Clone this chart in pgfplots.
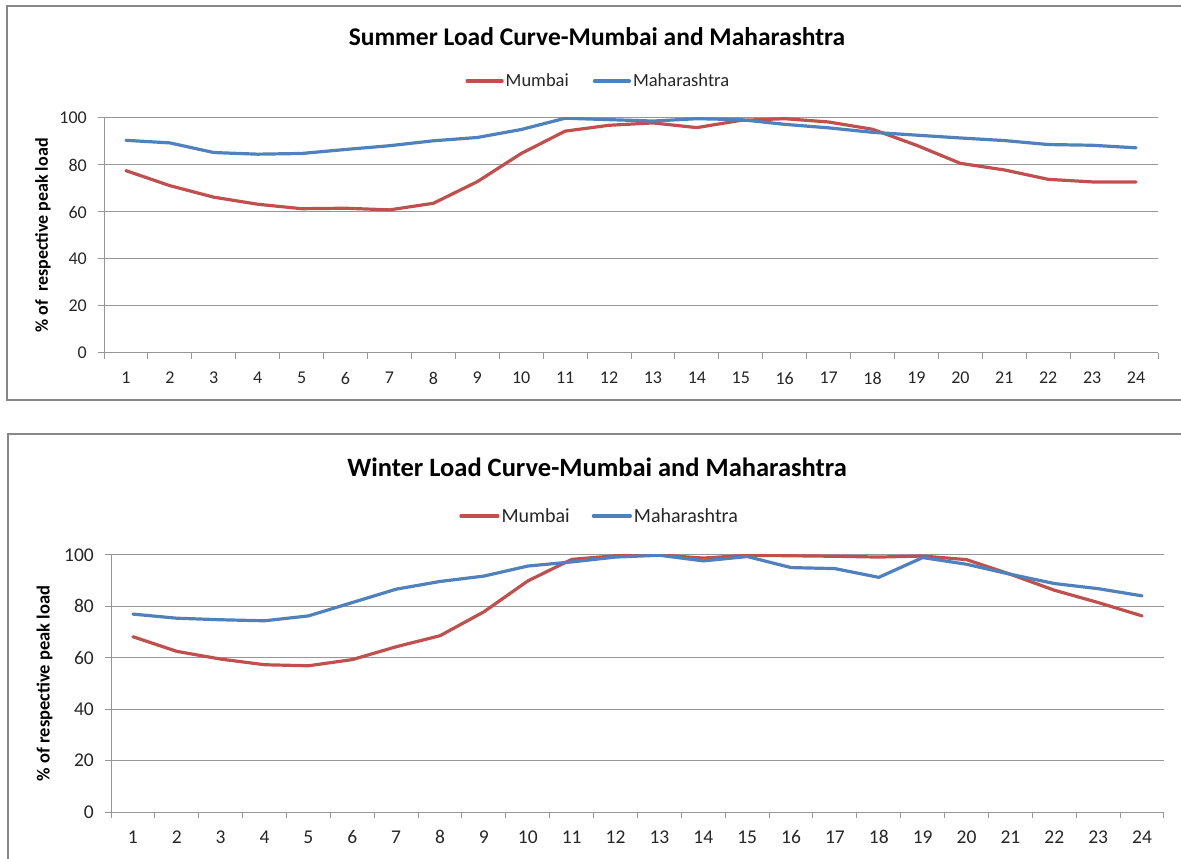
\documentclass[border=0pt]{standalone}
\usepackage{pgfplots}
\usepackage{pgfplotstable}
\pgfplotsset{compat=1.18}
\usepackage{fontspec}
\setmainfont{Carlito}
\definecolor{mred}{HTML}{C0504D}
\definecolor{mblue}{HTML}{4F81BD}
\definecolor{bord}{HTML}{878787}
\definecolor{gridc}{HTML}{969696}
\definecolor{txt}{HTML}{262626}

\pgfplotstableread{
h mum mah
1 77.6 90.5
2 71.2 89.4
3 66.3 85.3
4 63.3 84.6
5 61.4 84.9
6 61.6 86.6
7 60.9 88.2
8 63.7 90.3
9 72.9 91.7
10 84.9 95.1
11 94.4 99.9
12 96.9 99.3
13 97.9 98.7
14 95.9 99.7
15 99.0 99.3
16 99.7 97.3
17 98.3 95.8
18 95.2 93.9
19 88.4 92.7
20 80.7 91.5
21 77.9 90.4
22 73.9 88.7
23 72.8 88.4
24 72.8 87.3
}\summer

\pgfplotstableread{
h mum mah
1 68.2 77.0
2 62.5 75.4
3 59.5 74.8
4 57.3 74.4
5 56.9 76.3
6 59.3 81.5
7 64.3 86.7
8 68.6 89.7
9 77.9 91.8
10 89.9 95.7
11 98.3 97.3
12 99.7 99.2
13 100.0 99.9
14 98.8 97.7
15 99.9 99.4
16 99.7 95.1
17 99.5 94.7
18 99.2 91.3
19 99.6 99.0
20 98.2 96.4
21 92.5 92.5
22 86.3 88.9
23 81.5 86.9
24 76.3 84.1
}\winter

\pgfplotsset{
  lc/.style={
    scale only axis,
    xmin=0.5, xmax=24.5, ymin=0, ymax=100,
    axis x line*=bottom, axis y line*=left,
    axis line style={draw=gridc, line width=1bp, -},
    xtick={1,...,24}, ytick={0,20,...,100},
    minor xtick={0.5,1.5,...,24.5},
    minor ytick={0,20,...,100},
    major tick length=0pt, minor tick length=6bp,
    tick align=outside,
    tick style={draw=gridc, line width=1bp},
    ymajorgrids, major grid style={draw=gridc, line width=1bp},
    /pgf/number format/assume math mode=true,
    xticklabel style={anchor=center, yshift=-25bp},
    yticklabel style={anchor=east, inner sep=0pt, xshift=-17bp},
    legend columns=2,
    legend style={draw=none, fill=none, anchor=center, text=txt},
    every axis y label/.style={rotate=90, anchor=center,
      font=\bfseries\fontsize{18bp}{21bp}\selectfont, text=black},
  },
  ser/.style={line width=3.2bp, line join=round, line cap=round},
}

\begin{document}
\begin{tikzpicture}
\useasboundingbox (0,0) rectangle (1181bp,859bp);
\draw[bord, line width=2bp] (7bp,459bp) rectangle (1190bp,853bp);
\draw[bord, line width=2bp] (8bp,-10bp) rectangle (1190bp,425bp);

\node[font=\bfseries\fontsize{25.5bp}{30bp}\selectfont] at (597bp,822bp) {Summer Load Curve-Mumbai and Maharashtra};
\node[font=\bfseries\fontsize{26.5bp}{31bp}\selectfont] at (597bp,392bp) {Winter Load Curve-Mumbai and Maharashtra};

\begin{axis}[lc, at={(104bp,506bp)}, anchor=south west,
  width=1054bp, height=235bp,
  tick label style={font=\fontsize{18bp}{21bp}\selectfont, text=txt},
  legend style={at={(0.469,1.157)}, font=\fontsize{18.5bp}{21bp}\selectfont,
    /tikz/every even column/.append style={column sep=22bp}},
  legend image code/.code={\draw[#1] (0bp,0bp) -- (35bp,0bp);},
  every axis y label/.append style={at={(axis description cs:-0.058,0.5)}},
  ylabel={\% of\ \ respective peak load}]
\addplot[ser, mred] table[x=h, y=mum] {\summer};
\addlegendentry{Mumbai}
\addplot[ser, mblue] table[x=h, y=mah] {\summer};
\addlegendentry{Maharashtra}
\end{axis}

\begin{axis}[lc, at={(111bp,47bp)}, anchor=south west,
  width=1053bp, height=257bp,
  tick label style={font=\fontsize{19.5bp}{22bp}\selectfont, text=txt},
  legend style={at={(0.464,1.152)}, font=\fontsize{20bp}{23bp}\selectfont,
    /tikz/every even column/.append style={column sep=20bp}},
  legend image code/.code={\draw[#1] (0bp,0bp) -- (37bp,0bp);},
  every axis y label/.append style={at={(axis description cs:-0.063,0.5)},
    font=\bfseries\fontsize{18.5bp}{21bp}\selectfont},
  ylabel={\% of respective peak load}]
\addplot[ser, mred] table[x=h, y=mum] {\winter};
\addlegendentry{Mumbai}
\addplot[ser, mblue] table[x=h, y=mah] {\winter};
\addlegendentry{Maharashtra}
\end{axis}
\end{tikzpicture}
\end{document}
